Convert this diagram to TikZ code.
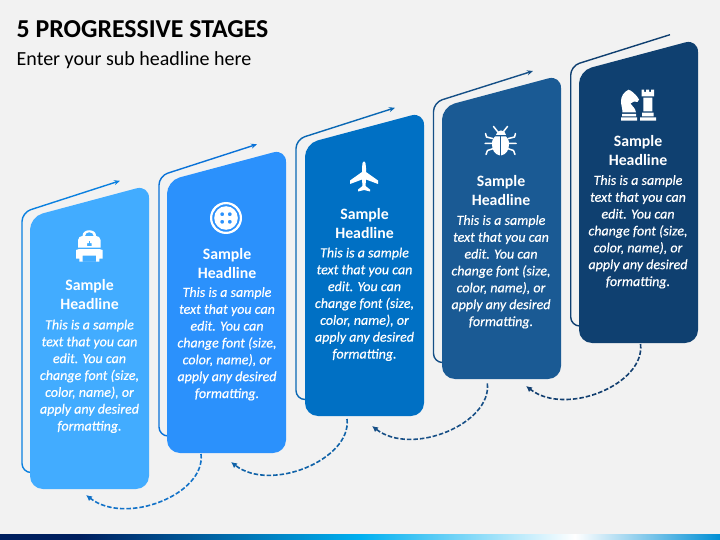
\documentclass[tikz,border=0pt]{standalone}
\usepackage{fontspec}
\setmainfont{Carlito}
\newfontfamily\bodyfam[FakeBold=0.35]{Carlito}
\usetikzlibrary{arrows.meta,calc}
\definecolor{bgc}{HTML}{F2F2F2}
\definecolor{cA}{HTML}{42ACFF}
\definecolor{cB}{HTML}{2B91FC}
\definecolor{cC}{HTML}{0070C4}
\definecolor{cD}{HTML}{1A5A94}
\definecolor{cE}{HTML}{0F4070}
\definecolor{lA}{HTML}{0A80E0}
\definecolor{lB}{HTML}{0A72D8}
\definecolor{lC}{HTML}{0A68B4}
\definecolor{lD}{HTML}{154F86}
\definecolor{lE}{HTML}{0F3F70}
\definecolor{dA}{HTML}{1272C8}
\definecolor{dB}{HTML}{0F62A8}
\definecolor{dC}{HTML}{174F86}
\definecolor{dD}{HTML}{123F70}
\definecolor{barA}{HTML}{001F5F}
\definecolor{barB}{HTML}{00B0F0}
\definecolor{barC}{HTML}{008FD5}
\tikzset{
 titletext/.style={anchor=west,inner sep=0pt,text=black,font=\bfseries\fontsize{25.8}{28}\selectfont},
 subtext/.style={anchor=west,inner sep=0pt,text=black,font=\fontsize{20}{22}\selectfont},
 headtext/.style={anchor=north,inner sep=0pt,align=center,text=white,font=\bfseries\fontsize{15.8}{19}\selectfont},
 bodytext/.style={anchor=north,inner sep=0pt,align=center,text=white,font=\bodyfam\itshape\fontsize{14}{16.85}\selectfont},
 backline/.style={line width=1.4pt,rounded corners=9pt},
 looparrow/.style={line width=1.6pt,dash pattern=on 4.5pt off 2pt,-{Latex[length=6pt,width=6pt]}},
 cardbox/.style={rounded corners=13pt},
 icon/.style={fill=white,draw=none,even odd rule},
}
% args: x of card, y bottom, colour
\newcommand{\stagecard}[3]{%
 \pgfmathsetmacro{\xr}{#1+119}%
 \pgfmathsetmacro{\ytop}{#2-272.2}%
 \pgfmathsetmacro{\ytopr}{#2-304}%
 \fill[cardbox,#3] (#1,\ytop) -- (\xr,\ytopr) -- (\xr,#2) -- (#1,#2) -- cycle;}
% args: x of line, y of top-left corner, y of low end, colour, tip x, tip y, extra
\newcommand{\stageline}[7]{%
 \pgfmathsetmacro{\xin}{#1+8.5}%
 \draw[backline,#4,#7] (\xin,#3) -- (#1,#3) -- (#1,#2) -- (#5,#6);}
\newcommand{\bodycopy}{This is a sample\\text that you can\\edit. You can\\change font (size,\\color, name), or\\apply any desired\\formatting.}
\newcommand{\headcopy}{Sample\\Headline}
\begin{document}
\begin{tikzpicture}[x=1pt,y=-1pt]
\useasboundingbox (0,0) rectangle (720,540);
\fill[bgc] (0,0) rectangle (720,540);
% bottom bar
\fill[barA] (0,534) rectangle (80,540);
\shade[left color=barA,right color=barB] (80,534) rectangle (360,540);
\shade[left color=barB,right color=white] (360,534) rectangle (575,540);
\shade[left color=white,right color=barC] (575,534) rectangle (720,540);
% titles
\node[titletext] (title) at (16.5,29) {5 PROGRESSIVE STAGES};
\node[subtext] (subtitle) at (16.5,60) {Enter your sub headline here};
% back lines
\stageline{22}{212.5}{472.5}{lA}{120}{180.8}{-{Stealth[length=6pt,width=5pt]}}
\stageline{159}{176}{436}{lB}{257}{144.3}{-{Stealth[length=6pt,width=5pt]}}
\stageline{296}{139.5}{399.5}{lC}{395}{107.8}{-{Stealth[length=6pt,width=5pt]}}
\stageline{433.5}{102.5}{362.5}{lD}{533}{71}{-{Stealth[length=6pt,width=5pt]}}
\stageline{570.7}{66}{326}{lE}{670}{34.7}{}
% cards
\stagecard{30}{489}{cA}
\stagecard{167}{453}{cB}
\stagecard{305}{416}{cC}
\stagecard{442}{379}{cD}
\stagecard{579}{343}{cE}
% headings
\node[headtext] (h1) at (89.5,279) {\headcopy};
\node[headtext] (h2) at (227,248) {\headcopy};
\node[headtext] (h3) at (364.5,208) {\headcopy};
\node[headtext] (h4) at (501,175) {\headcopy};
\node[headtext] (h5) at (638,135) {\headcopy};
% body
\node[bodytext] (b1) at (89.5,319.5) {\bodycopy};
\node[bodytext] (b2) at (227,287) {\bodycopy};
\node[bodytext] (b3) at (364.5,247.5) {\bodycopy};
\node[bodytext] (b4) at (501,215) {\bodycopy};
\node[bodytext] (b5) at (638,175) {\bodycopy};
% loop connectors
\coordinate (s1) at (201,454); \coordinate (t1) at (86,495);
\coordinate (s2) at (347,419); \coordinate (t2) at (231,462);
\coordinate (s3) at (487.3,383.3); \coordinate (t3) at (372,426);
\coordinate (s4) at (640.5,344); \coordinate (t4) at (526,386);
\draw[looparrow,dA] (s1) .. controls ($(s1)+(5,40)$) and ($(t1)+(40,31)$) .. (t1);
\draw[looparrow,dB] (s2) .. controls ($(s2)+(5,40)$) and ($(t2)+(40,31)$) .. (t2);
\draw[looparrow,dC] (s3) .. controls ($(s3)+(5,40)$) and ($(t3)+(40,31)$) .. (t3);
\draw[looparrow,dD] (s4) .. controls ($(s4)+(5,40)$) and ($(t4)+(40,31)$) .. (t4);
% backpack icon
\begin{scope}[shift={(89.3,246)}]
 % handle
 \fill[icon] (-6.7,-9) -- (-6.7,-10.5) .. controls (-6.7,-17.5) and (6.7,-17.5) .. (6.7,-10.5) -- (6.7,-9) -- cycle
 (-4.4,-10) .. controls (-4.4,-15) and (4.4,-15) .. (4.4,-10) -- cycle;
 % upper body with clasp
 \fill[icon] (-11.2,-6) .. controls (-11.2,-8.5) and (-9,-10) .. (-7,-10) -- (7,-10) .. controls (9,-10) and (11.2,-8.5) .. (11.2,-6) -- (11.2,1.5) -- (-11.2,1.5) -- cycle
 (-2.2,-3) rectangle (2.2,0.2);
 \fill[cA] (-0.7,-5) rectangle (0.7,-1.5);
 % lower body with pocket
 \fill[icon] (-13.3,4) -- (-10,3) -- (10,3) -- (13.3,4) -- (13.3,12.5) -- (10,12.5) -- (10,15.7) -- (-10,15.7) -- (-10,12.5) -- (-13.3,12.5) -- cycle
 (-6.7,9.5) rectangle (6.7,15.7);
\end{scope}
% button icon
\begin{scope}[shift={(226,218)}]
 \fill[icon] (0,0) circle (16) (0,0) circle (13.8);
 \fill[icon] (0,0) circle (11.8) (-3.8,-3.8) circle (2) (3.8,-3.8) circle (2) (-3.8,3.8) circle (2) (3.8,3.8) circle (2);
\end{scope}
% plane icon
\begin{scope}[shift={(364,177)}]
 \fill[icon] (0,-15.5) .. controls (1.5,-15.5) and (2,-12) .. (2,-9) -- (2,-5) -- (14,3.5) -- (14,7) -- (2,2.5) -- (1.5,9) -- (6,12.5) -- (6,14.5) -- (0,13) -- (-6,14.5) -- (-6,12.5) -- (-1.5,9) -- (-2,2.5) -- (-14,7) -- (-14,3.5) -- (-2,-5) -- (-2,-9) .. controls (-2,-12) and (-1.5,-15.5) .. (0,-15.5) -- cycle;
\end{scope}
% bug icon
\begin{scope}[shift={(500.5,140.5)}]
 \fill[icon] (-5,-5.5) .. controls (-5,-11) and (5,-11) .. (5,-5.5) -- cycle;
 \fill[icon] (-0.6,-4) -- (-0.6,15) .. controls (-6,14) and (-8.5,9) .. (-8.5,4) .. controls (-8.5,-1) and (-7,-3) .. (-5.5,-4) -- cycle;
 \fill[icon] (0.6,-4) -- (0.6,15) .. controls (6,14) and (8.5,9) .. (8.5,4) .. controls (8.5,-1) and (7,-3) .. (5.5,-4) -- cycle;
 \draw[white,line width=1.5pt,line cap=round,line join=round] (-3,-9) -- (-7,-14) (3,-9) -- (7,-14)
 (-8,-2) -- (-14,-3.5) -- (-15,-7) (8,-2) -- (14,-3.5) -- (15,-7)
 (-8,3) -- (-15.5,3) (8,3) -- (15.5,3)
 (-7,8) -- (-13,10) -- (-14.5,14) (7,8) -- (13,10) -- (14.5,14);
\end{scope}
% chess icon
\begin{scope}[shift={(638,105)}]
 % knight
 \fill[icon] (-9.5,-15.3) .. controls (-6.5,-14.5) and (-3,-11) .. (-1,-8.5) -- (1,-5.5) -- (-0.5,-3) -- (-4,-3.5) -- (-7.5,-1.5) .. controls (-6,1) and (-2.5,3) .. (-2,7.5) -- (-15.5,7.5) .. controls (-15.5,4) and (-17,0) .. (-17,-4) .. controls (-17,-9) and (-14,-13) .. (-9.5,-15.3) -- cycle;
 \fill[icon] (-16,9) rectangle (-2,11.5) (-17,12.5) rectangle (-1,15.7);
 % rook
 \fill[icon] (3.7,-15.3) -- (6.2,-15.3) -- (6.2,-13) -- (8.2,-13) -- (8.2,-15.3) -- (11.2,-15.3) -- (11.2,-13) -- (13.2,-13) -- (13.2,-15.3) -- (16,-15.3) -- (16,-8.5) -- (3.7,-8.5) -- cycle;
 \fill[icon] (5.3,-7.3) rectangle (14.3,6.5) (4,7.7) rectangle (15.7,11.5) (2,12.5) rectangle (18,15.7);
\end{scope}
\end{tikzpicture}
\end{document}
